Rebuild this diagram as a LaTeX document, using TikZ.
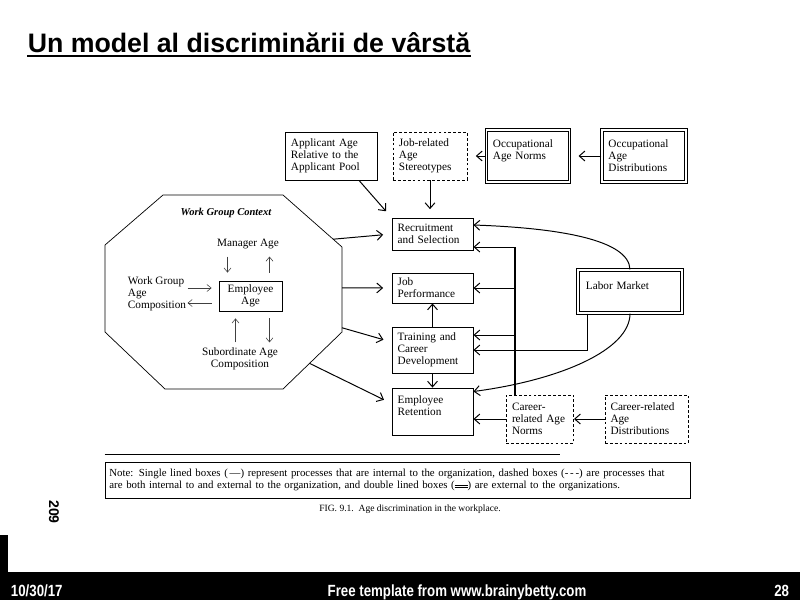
\documentclass[tikz,border=0pt]{standalone}
\usepackage{fontspec}
\setmainfont{Liberation Serif}
\setsansfont{Liberation Sans}
\newfontfamily\narrowsans{Liberation Sans}[FakeStretch=0.82]
\usetikzlibrary{arrows.meta, positioning, calc}
\newcommand\dblbar{\rlap{\rule[0.1ex]{1.2em}{0.5pt}}\rule[0.55ex]{1.2em}{0.8pt}}

\begin{document}
\begin{tikzpicture}[
  x=0.025cm, y=-0.025cm,
  proc/.style={rectangle, draw=black, line width=0.6pt, fill=white, align=left,
    font=\fontsize{8}{8.5}\selectfont, inner xsep=4pt, inner ysep=1pt},
  mixed/.style={proc, line width=0.5pt, dash pattern=on 2pt off 1.5pt},
  extern/.style={proc, double, line width=0.8pt, double distance=1.2pt},
  arr/.style={-{Straight Barb[length=4pt, width=7pt]}, line width=0.7pt},
  gaparr/.style={arr, shorten >=6pt},
  thinarr/.style={-{Straight Barb[length=3pt, width=5pt]}, line width=0.4pt, black!75},
  inlabel/.style={font=\fontsize{8}{8.5}\selectfont, align=center},
  foot/.style={font=\narrowsans\bfseries\fontsize{11.5}{13}\selectfont, text=white},
]
\useasboundingbox (0,0) rectangle (800,600);
% ====== TITLE ======
\node[font=\sffamily\bfseries\fontsize{19}{22}\selectfont, inner sep=0pt, anchor=base]
  (title) at (249,52) {Un model al discriminării de vârstă};
\draw[line width=1.5pt] ([yshift=-3pt]title.base west) -- ([yshift=-3pt]title.base east);
%
% ====== TOP ROW ======
\node[proc, minimum width=2.3cm, text width=2.0cm, minimum height=1.2cm] (applicant)
  at (331,156) {Applicant Age\\Relative to the\\Applicant Pool};
\node[mixed, minimum width=1.85cm, text width=1.55cm, minimum height=1.2cm] (stereo)
  at (430,156) {Job-related\\Age\\Stereotypes};
\node[extern, minimum width=2.075cm, text width=1.75cm, minimum height=1.3cm] (occnorms)
  at (528,156) {Occupational\\Age Norms\\\mbox{}};
\node[extern, minimum width=2.1cm, text width=1.78cm, minimum height=1.3cm] (occdist)
  at (644,156) {Occupational\\Age\\Distributions};
%
% ====== ORGANIZATION COLUMN ======
\node[proc, minimum width=2.025cm, text width=1.74cm, minimum height=0.8cm] (recruit)
  at (432.5,234) {Recruitment\\and Selection};
\node[proc, minimum width=2.025cm, text width=1.74cm, minimum height=0.75cm] (perform)
  at (432.5,288) {Job\\Performance};
\node[proc, minimum width=2.025cm, text width=1.74cm, minimum height=1.15cm] (training)
  at (432.5,350) {Training and\\Career\\Development};
\node[proc, minimum width=2.025cm, text width=1.74cm, minimum height=1.175cm] (retention)
  at (432.5,411.5) {Employee\\Retention\\\mbox{}};
%
% ====== RIGHT SIDE ======
\node[extern, minimum width=2.6cm, text width=2.2cm, minimum height=1.075cm] (labor)
  at (630,291.5) {Labor Market\\\mbox{}};
\node[mixed, minimum width=1.65cm, text width=1.4cm, minimum height=1.2cm] (crnorms)
  at (540,419) {Career-\\related Age\\Norms};
\node[mixed, minimum width=2.075cm, text width=1.8cm, minimum height=1.2cm] (crdist)
  at (646.5,419) {Career-related\\Age\\Distributions};
%
% ====== WORK GROUP CONTEXT ======
\draw[line width=0.5pt] (163,195) coordinate (oct-n1) -- (283,195) coordinate (oct-n2)
  -- (342,247) coordinate (oct-e1) -- (342,332) coordinate (oct-e2)
  -- (283,389) coordinate (oct-s2) -- (165,389) coordinate (oct-s1)
  -- (105,332) coordinate (oct-w2) -- (105,245) coordinate (oct-w1) -- cycle;
\node[font=\fontsize{7.5}{9}\selectfont\bfseries\itshape] (context) at (226,213)
  {Work Group Context};
\node[inlabel] (manager) at (248,244) {Manager Age};
\node[proc, align=center, minimum width=1.575cm, minimum height=0.75cm] (empage)
  at (250.5,296) {Employee\\Age};
\node[inlabel, align=left, anchor=west] (wgcomp) at (123,294)
  {Work Group\\Age\\Composition};
\node[inlabel] (subord) at (240,359) {Subordinate Age\\Composition};
\draw[thinarr] ($(empage.north)+(-23,-24)$) -- ($(empage.north)+(-23,-8)$);
\draw[thinarr] ($(empage.north)+(19,-8)$) -- ($(empage.north)+(19,-24)$);
\draw[thinarr] ($(empage.west)+(-31,-8)$) -- ($(empage.west)+(-7,-8)$);
\draw[thinarr] ($(empage.west)+(-7,7)$) -- ($(empage.west)+(-31,7)$);
\draw[thinarr] ($(empage.south)+(-15,31)$) -- ($(empage.south)+(-15,7)$);
\draw[thinarr] ($(empage.south)+(19,7)$) -- ($(empage.south)+(19,31)$);
%
% ====== CONNECTORS ======
\draw[gaparr] ($(applicant.south)+(28,0)$) -- (recruit.north west);
\draw[gaparr] (stereo.south) -- (stereo.south |- recruit.north);
\draw[gaparr] (occnorms.west) -- (stereo.east);
\draw[gaparr] (occdist.west) -- (occnorms.east);
\draw[gaparr] ($(oct-n2)!0.85!(oct-e1)$) -- (recruit.west);
\draw[gaparr] ($(oct-e1)!0.48!(oct-e2)$) -- (perform.west);
\draw[gaparr] ($(oct-e1)!0.95!(oct-e2)$) -- ($(training.west)+(0,-8)$);
\draw[gaparr] ($(oct-e2)!0.55!(oct-s2)$) -- ($(retention.west)+(0,-8)$);
\draw[arr] (training.north) -- (perform.south);
\draw[arr] (training.south) -- (retention.north);
% career norms trunk
\coordinate (tk-r) at (515,247);
\coordinate (tk-p) at (515,288);
\coordinate (tk-t) at (515,335);
\draw[line width=1.2pt] (crnorms.north -| tk-r) -- (tk-r);
\draw[arr] (tk-r) -- (tk-r -| recruit.east);
\draw[arr] (tk-p) -- (tk-p -| perform.east);
\draw[arr] (tk-t) -- (tk-t -| training.east);
\draw[arr] (crnorms.west) -- (crnorms.west -| retention.east);
\draw[arr] (crdist.west) -- (crnorms.east);
% labor market
\draw[arr] (labor.north) .. controls (629,240) and (560,228) .. ($(recruit.east)+(0,-9)$);
\draw[arr] ($(labor.south west)+(10,0)$) |- (training.east);
\draw[arr] (labor.south) .. controls (630,350) and (560,380) .. ($(retention.east)+(0,-20)$);
%
% ====== NOTE AND CAPTION ======
\node[proc, font=\fontsize{7.7}{8.3}\selectfont, inner xsep=3pt, text width=14.4cm,
  minimum width=14.625cm, minimum height=0.9cm] (note) at (397.5,480)
  {Note: Single lined boxes (\,---) represent processes that are internal to the organization, dashed boxes (-\,-\,-) are processes that\\
   are both internal to and external to the organization, and double lined boxes (\dblbar) are external to the organizations.};
\draw[line width=0.8pt] ($(note.north west)+(0,-7)$) -- ($(note.north west)+(455,-7)$);
\node[font=\fontsize{6.8}{8}\selectfont] (fig) at (410,509)
  {FIG.\ 9.1.\ \ Age discrimination in the workplace.};
\node[font=\sffamily\bfseries\fontsize{10}{12}\selectfont, rotate=-90] (page) at (54,512) {209};
%
% ====== FOOTER ======
\fill[black] (0,572) rectangle (800,600);
\fill[black] (0,535) rectangle (8,572);
\node[foot, anchor=base west] (date) at (6,596) {10/30/17};
\node[foot, anchor=base] (credit) at (457,596) {Free template from www.brainybetty.com};
\node[foot, anchor=base east] (slide) at (794,596) {28};
\end{tikzpicture}
\end{document}
